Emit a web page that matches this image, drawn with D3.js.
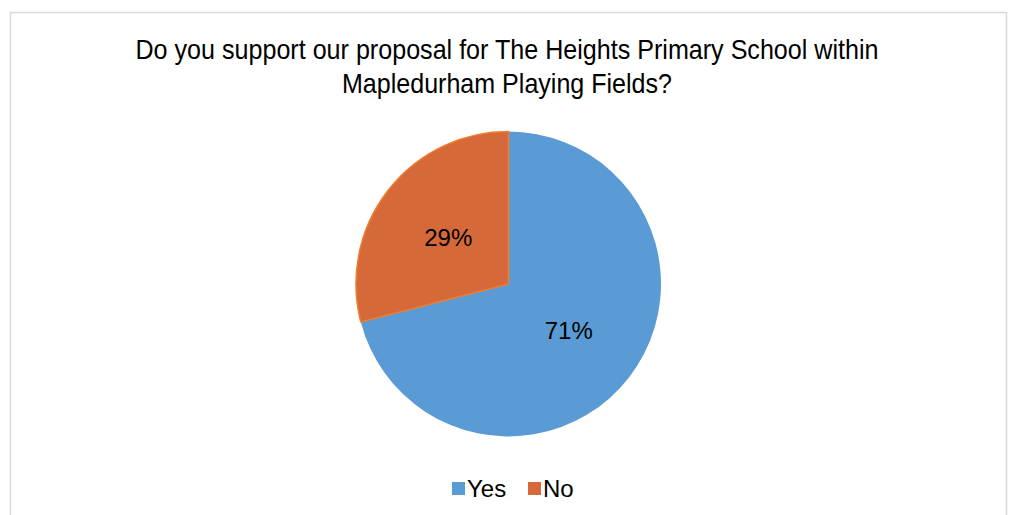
<!DOCTYPE html>
<html>
<head>
<meta charset="utf-8">
<script src="https://cdn.jsdelivr.net/npm/d3@7.9.0/dist/d3.min.js"></script>
<style>
  body { margin: 0; background: #fff; }
  svg { display: block; font-family: "Liberation Sans", Arial, sans-serif; }
</style>
</head>
<body>
<svg id="chart" width="1011" height="515"></svg>
<script>
// data
const categories = ['Yes', 'No'];
const shares = [71, 29];
const titleLines = [
  'Do you support our proposal for The Heights Primary School within',
  'Mapledurham Playing Fields?'
];

const fills = ['#5b9bd5', '#d6693a'];
const strokes = ['none', '#ed7d31'];

const svg = d3.select('#chart');

// chart border
svg.append('rect')
   .attr('x', 10.5).attr('y', 12.5)
   .attr('width', 996).attr('height', 520)
   .attr('fill', '#fff')
   .attr('stroke', '#d9d9d9')
   .attr('stroke-width', 1.5);

// title
const titleWidths = [743, 330];
titleLines.forEach((line, i) => {
  svg.append('text')
     .attr('x', 507)
     .attr('y', 58.5 + i * 34)
     .attr('text-anchor', 'middle')
     .attr('font-size', 28)
     .attr('fill', '#000')
     .attr('textLength', titleWidths[i])
     .attr('lengthAdjust', 'spacingAndGlyphs')
     .text(line);
});

// pie
const cx = 508.5, cy = 284, radius = 152.5;
const data = categories.map((c, i) => ({ label: c, value: shares[i] }));

const pie = d3.pie().sort(null).value(d => d.value);
const arc = d3.arc().innerRadius(0).outerRadius(radius);
const arcData = pie(data);

const g = svg.append('g').attr('transform', `translate(${cx},${cy})`);

g.selectAll('path')
 .data(arcData)
 .join('path')
 .attr('d', arc)
 .attr('fill', (d, i) => fills[i])
 .attr('stroke', (d, i) => strokes[i])
 .attr('stroke-width', 1.5)
 .attr('stroke-linejoin', 'round');

g.selectAll('text.lbl')
 .data(arcData)
 .join('text')
 .attr('class', 'lbl')
 .attr('transform', d => `translate(${arc.centroid(d)})`)
 .attr('text-anchor', 'middle')
 .attr('dy', '0.36em')
 .attr('font-size', 24)
 .attr('fill', '#000')
 .text(d => `${d.data.value}%`);

// legend
const legend = svg.append('g');
const legendX = [452, 528];
data.forEach((d, i) => {
  legend.append('rect')
        .attr('x', legendX[i]).attr('y', 482)
        .attr('width', 13).attr('height', 13)
        .attr('fill', fills[i]);
  legend.append('text')
        .attr('x', legendX[i] + 15)
        .attr('y', 496.5)
        .attr('font-size', 24)
        .attr('fill', '#000')
        .text(d.label);
});
</script>
</body>
</html>
